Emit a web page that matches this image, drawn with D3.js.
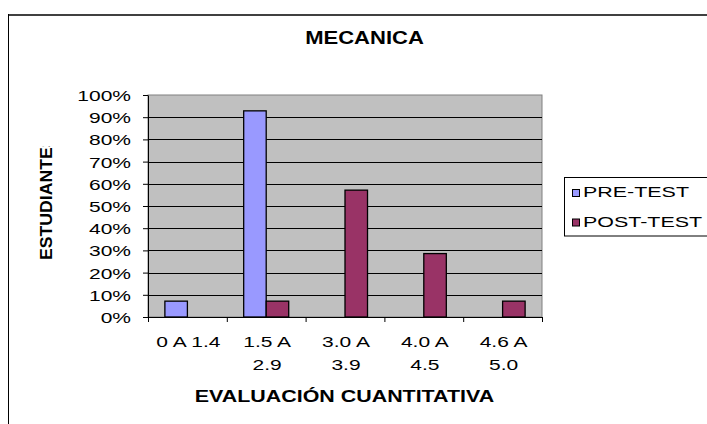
<!DOCTYPE html>
<html>
<head>
<meta charset="utf-8">
<script src="https://cdn.jsdelivr.net/npm/d3@7"></script>
<style>
  html, body { margin: 0; padding: 0; background: #fff; }
  svg { display: block; }
  text { font-family: "Liberation Sans", Arial, sans-serif; fill: #000; }
</style>
</head>
<body>
<svg id="chart" width="707" height="424"></svg>
<script>
// Score bands and share of students in each band
const categories = ["0 A 1.4", "1.5 A 2.9", "3.0 A 3.9", "4.0 A 4.5", "4.6 A 5.0"];
const seriesNames = ["PRE-TEST", "POST-TEST"];
const preTest  = [0.0714, 0.9286, 0, 0, 0];
const postTest = [0, 0.0714, 0.5714, 0.2857, 0.0714];
const yTicks = [0, 0.1, 0.2, 0.3, 0.4, 0.5, 0.6, 0.7, 0.8, 0.9, 1.0];
const colors = ["#9999ff", "#993366"];

const svg = d3.select("#chart");
const plot = { left: 148, right: 542, top: 95, bottom: 317 };

// Horizontal text widening used across the figure
function place(sel, x, y, sx) {
  sel.attr("x", 0).attr("y", 0)
     .attr("transform", `translate(${x},${y}) scale(${sx},1)`);
  return sel;
}

// Outer frame
svg.append("line").attr("x1", 8).attr("x2", 707).attr("y1", 15).attr("y2", 15)
   .attr("stroke", "#404040").attr("stroke-width", 2);
svg.append("line").attr("x1", 8.5).attr("x2", 8.5).attr("y1", 14).attr("y2", 424)
   .attr("stroke", "#000").attr("stroke-width", 1);

// Scales
const x0 = d3.scaleBand().domain(categories).range([plot.left, plot.right]).paddingInner(0).paddingOuter(0);
const bw = x0.bandwidth() / 3.5;
const x1 = d3.scaleBand().domain(seriesNames)
  .range([x0.bandwidth() * 0.75 / 3.5, x0.bandwidth() * 2.75 / 3.5]).padding(0);
const y = d3.scaleLinear().domain([0, 1]).range([plot.bottom, plot.top]);

// Plot background
svg.append("rect").attr("x", plot.left).attr("y", plot.top)
   .attr("width", plot.right - plot.left).attr("height", plot.bottom - plot.top)
   .attr("fill", "#c0c0c0").attr("stroke", "#808080").attr("stroke-width", 1);

// Gridlines
svg.append("g").selectAll("line").data(yTicks.filter(d => d > 0 && d < 1)).join("line")
  .attr("x1", plot.left).attr("x2", plot.right)
  .attr("y1", d => Math.round(y(d)) + 0.5).attr("y2", d => Math.round(y(d)) + 0.5)
  .attr("stroke", "#000").attr("stroke-width", 1);

// Bars
const rows = categories.map((c, i) => ({ cat: c, vals: [preTest[i], postTest[i]] }));
const groups = svg.append("g").selectAll("g").data(rows).join("g")
  .attr("transform", d => `translate(${x0(d.cat)},0)`);
groups.selectAll("rect")
  .data(d => d.vals.map((v, j) => ({ name: seriesNames[j], v, j })).filter(e => e.v > 0))
  .join("rect")
  .attr("x", d => x1(d.name))
  .attr("width", x1.bandwidth())
  .attr("y", d => y(d.v))
  .attr("height", d => y(0) - y(d.v))
  .attr("fill", d => colors[d.j])
  .attr("stroke", "#000").attr("stroke-width", 1.3);

// Y axis
const yAxis = svg.append("g").attr("transform", `translate(${plot.left},0)`)
  .call(d3.axisLeft(y).tickValues(yTicks).tickFormat(d3.format(".0%")).tickSize(5).tickSizeOuter(0));
yAxis.select(".domain").attr("stroke", "#000");
yAxis.selectAll(".tick line").attr("stroke", "#000");
yAxis.selectAll(".tick text").each(function () {
  const t = d3.select(this);
  t.attr("dy", null).style("font-size", "14px").attr("text-anchor", "end");
  place(t, -17, 5.5, 1.5);
});

// X axis with ticks at every band boundary
const xAxis = svg.append("g").attr("transform", `translate(0,${plot.bottom})`);
xAxis.append("line").attr("x1", plot.left).attr("x2", plot.right).attr("y1", 0.5).attr("y2", 0.5)
  .attr("stroke", "#000");
const bounds = categories.map(c => x0(c)).concat([plot.right]);
xAxis.selectAll("line.tk").data(bounds).join("line").attr("class", "tk")
  .attr("x1", d => d + 0.5).attr("x2", d => d + 0.5).attr("y1", 0).attr("y2", 5)
  .attr("stroke", "#000");

// Category labels, wrapped onto two lines where needed
const catLines = categories.map((c, i) => i === 0 ? [c] : [c.slice(0, c.lastIndexOf(" ")), c.slice(c.lastIndexOf(" ") + 1)]);
categories.forEach((c, i) => {
  const cx = x0(c) + x0.bandwidth() / 2 + 1;
  catLines[i].forEach((ln, k) => {
    const t = svg.append("text").text(ln).attr("text-anchor", "middle").style("font-size", "14px");
    place(t, cx, 347 + k * 22.6, 1.5);
  });
});

// Titles
place(svg.append("text").text("MECANICA").attr("text-anchor", "middle")
  .style("font-size", "17.5px").style("font-weight", "bold"), 364.5, 44.3, 1.26);
place(svg.append("text").text("EVALUACIÓN CUANTITATIVA").attr("text-anchor", "middle")
  .style("font-size", "17px").style("font-weight", "bold"), 344.5, 402.3, 1.26);

svg.append("clipPath").attr("id", "yclip").append("rect")
  .attr("x", 20).attr("y", 146).attr("width", 60).attr("height", 140);
svg.append("g").attr("clip-path", "url(#yclip)")
  .append("text").text("ESTUDIANTES")
  .attr("text-anchor", "start").style("font-size", "17px").style("font-weight", "bold")
  .attr("transform", "translate(52.3,260) rotate(-90) scale(1.04,1)");

// Legend
const lg = svg.append("g");
lg.append("rect").attr("x", 564.5).attr("y", 177.5).attr("width", 160).attr("height", 58.5)
  .attr("fill", "#fff").attr("stroke", "#000").attr("stroke-width", 1);
seriesNames.forEach((n, i) => {
  const yy = 197 + i * 29.5;
  lg.append("rect").attr("x", 572.5).attr("y", yy - 7.5).attr("width", 7).attr("height", 7)
    .attr("fill", colors[i]).attr("stroke", "#000").attr("stroke-width", 1);
  place(lg.append("text").text(n).style("font-size", "15px"), 583, yy, 1.43);
});
</script>
</body>
</html>
